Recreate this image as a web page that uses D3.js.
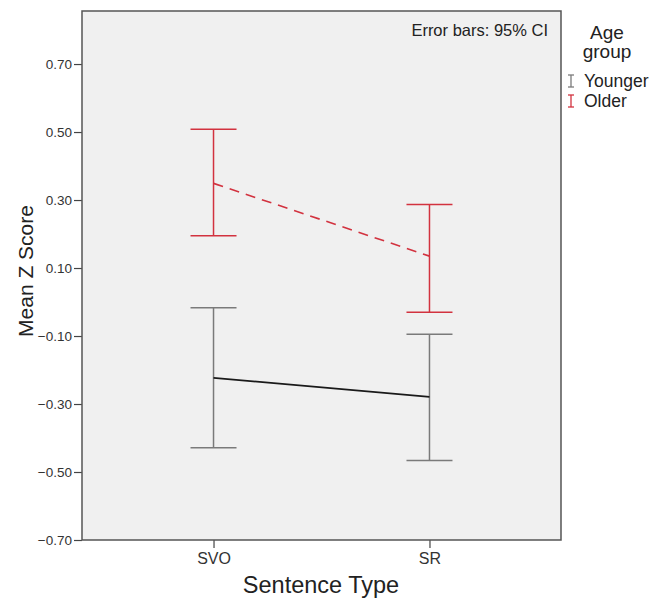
<!DOCTYPE html>
<html>
<head>
<meta charset="utf-8">
<script src="https://cdn.jsdelivr.net/npm/d3@7"></script>
<style>
  body { margin: 0; background: #fff; }
  text { font-family: Arial, "Liberation Sans", sans-serif; }
</style>
</head>
<body>
<script>
const w = 666;
const h = 599;

// data
const sentenceTypes = ["SVO", "SR"];
const groups = ["Younger", "Older"];
const youngerMean = [-0.223, -0.279];
const youngerLow = [-0.429, -0.466];
const youngerHigh = [-0.017, -0.095];
const olderMean = [0.349, 0.135];
const olderLow = [0.195, -0.030];
const olderHigh = [0.508, 0.287];
const yTicks = [-0.70, -0.50, -0.30, -0.10, 0.10, 0.30, 0.50, 0.70];

const plotLeft = 82, plotRight = 561, plotTop = 11, plotBottom = 540;

const svg = d3.select("body").append("svg").attr("width", w).attr("height", h);

const x = d3.scalePoint().domain(sentenceTypes).range([plotLeft, plotRight]).padding(0.609);
const y = d3.scaleLinear().domain([-0.70, 0.856]).range([plotBottom, plotTop]);

const colorBar = { Younger: "#7a7a7a", Older: "#d2323f" };
const colorLine = { Younger: "#1a1a1a", Older: "#d2323f" };

// plot background
svg.append("rect").attr("x", plotLeft).attr("y", plotTop)
  .attr("width", plotRight - plotLeft).attr("height", plotBottom - plotTop)
  .attr("fill", "#f0f0f0");

// y axis
const yAxis = svg.append("g").attr("transform", `translate(${plotLeft},0)`)
  .call(d3.axisLeft(y).tickValues(yTicks).tickSize(8).tickPadding(2)
    .tickFormat(d => d3.format(".2f")(d).replace("-", "\u2212")));
yAxis.select(".domain").remove();
yAxis.selectAll("line").attr("stroke", "#444").attr("stroke-width", 1.2);
yAxis.selectAll("text").attr("font-size", 13.5).attr("fill", "#333")
  .attr("font-family", "Arial, 'Liberation Sans', sans-serif");

// x axis
const xAxis = svg.append("g").attr("transform", `translate(0,${plotBottom})`)
  .call(d3.axisBottom(x).tickSize(8).tickPadding(5));
xAxis.select(".domain").remove();
xAxis.selectAll("line").attr("stroke", "#444").attr("stroke-width", 1.2);
xAxis.selectAll("text").attr("font-size", 16).attr("fill", "#333")
  .attr("font-family", "Arial, 'Liberation Sans', sans-serif");

// border on top
svg.append("rect").attr("x", plotLeft).attr("y", plotTop)
  .attr("width", plotRight - plotLeft).attr("height", plotBottom - plotTop)
  .attr("fill", "none").attr("stroke", "#555").attr("stroke-width", 1.5);

const series = [
  { name: "Younger", mean: youngerMean, low: youngerLow, high: youngerHigh, dash: null },
  { name: "Older", mean: olderMean, low: olderLow, high: olderHigh, dash: "10,7" }
];

const capHalf = 23;
series.forEach(s => {
  const g = svg.append("g");
  sentenceTypes.forEach((t, i) => {
    const cx = x(t);
    g.append("line").attr("x1", cx).attr("x2", cx)
      .attr("y1", y(s.low[i])).attr("y2", y(s.high[i]))
      .attr("stroke", colorBar[s.name]).attr("stroke-width", 1.5);
    [s.low[i], s.high[i]].forEach(v => {
      g.append("line").attr("x1", cx - capHalf).attr("x2", cx + capHalf)
        .attr("y1", y(v)).attr("y2", y(v))
        .attr("stroke", colorBar[s.name]).attr("stroke-width", 1.5);
    });
  });
  const line = d3.line().x((d, i) => x(sentenceTypes[i])).y(d => y(d));
  g.append("path").attr("d", line(s.mean)).attr("fill", "none")
    .attr("stroke", colorLine[s.name]).attr("stroke-width", 1.6)
    .attr("stroke-dasharray", s.dash);
});

// annotation
svg.append("text").attr("x", 548).attr("y", 36).attr("text-anchor", "end")
  .attr("font-size", 16.5).attr("fill", "#222").text("Error bars: 95% CI");

// axis titles
svg.append("text").attr("x", 321).attr("y", 593).attr("text-anchor", "middle")
  .attr("font-size", 23.5).attr("fill", "#222").text("Sentence Type");
svg.append("text").attr("transform", "translate(33,271) rotate(-90)")
  .attr("text-anchor", "middle").attr("font-size", 21).attr("fill", "#222")
  .text("Mean Z Score");

// legend
svg.append("text").attr("x", 607).attr("y", 39).attr("text-anchor", "middle")
  .attr("font-size", 19).attr("fill", "#222").text("Age");
svg.append("text").attr("x", 607).attr("y", 58).attr("text-anchor", "middle")
  .attr("font-size", 19).attr("fill", "#222").text("group");

groups.forEach((gname, i) => {
  const ly = 81 + i * 20;
  const lg = svg.append("g");
  lg.append("line").attr("x1", 571).attr("x2", 571).attr("y1", ly - 6).attr("y2", ly + 6)
    .attr("stroke", colorBar[gname]).attr("stroke-width", 1.3);
  [ly - 6, ly + 6].forEach(v => lg.append("line").attr("x1", 568).attr("x2", 574)
    .attr("y1", v).attr("y2", v).attr("stroke", colorBar[gname]).attr("stroke-width", 1.3));
  lg.append("text").attr("x", 584).attr("y", ly + 6).attr("font-size", 17.5)
    .attr("fill", "#222").text(gname);
});
</script>
</body>
</html>
